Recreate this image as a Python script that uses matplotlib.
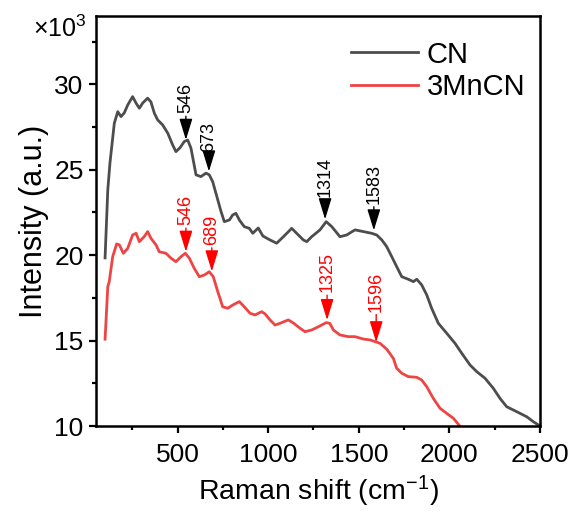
import matplotlib
matplotlib.use("Agg")
import matplotlib.pyplot as plt
from matplotlib.ticker import MultipleLocator

plt.rcParams['font.family'] = ['Liberation Sans', 'DejaVu Sans']
plt.rcParams['mathtext.fontset'] = 'custom'
plt.rcParams['mathtext.rm'] = 'Liberation Sans'
plt.rcParams['mathtext.it'] = 'Liberation Sans:italic'

# Raman shift (cm-1) and intensity (x10^3 a.u.)
cn_x = [100, 115, 127, 151, 170, 188, 206, 225, 252, 271, 289, 308, 335, 353, 372, 390,
        418, 446, 473, 491, 513, 537, 556, 574, 602, 629, 657, 675, 694, 722, 740, 758,
        786, 804, 822, 841, 868, 896, 915, 945, 971, 1010, 1047, 1084, 1130, 1157, 1194,
        1213, 1240, 1286, 1320, 1351, 1396, 1433, 1479, 1525, 1571, 1599, 1627, 1654,
        1682, 1709, 1737, 1773, 1801, 1820, 1847, 1875, 1902, 1939, 1985, 2031, 2068,
        2114, 2151, 2197, 2242, 2279, 2316, 2371, 2427, 2463, 2500]
cn_y = [19.84, 23.82, 25.40, 27.72, 28.40, 28.11, 28.33, 28.79, 29.28, 28.90, 28.60,
        28.91, 29.19, 28.97, 28.31, 27.92, 27.62, 27.14, 26.45, 26.06, 26.28, 26.65,
        26.74, 26.26, 24.70, 24.60, 24.80, 24.70, 24.30, 23.23, 22.55, 21.96, 22.06,
        22.35, 22.45, 22.06, 21.67, 21.57, 21.28, 21.59, 21.12, 20.89, 20.70, 21.08,
        21.57, 21.28, 20.89, 20.79, 21.08, 21.48, 21.96, 21.67, 21.08, 21.18, 21.48,
        21.38, 21.28, 21.18, 20.89, 20.50, 19.91, 19.33, 18.74, 18.59, 18.45, 18.59,
        18.26, 17.67, 16.89, 16.01, 15.43, 14.84, 14.26, 13.57, 13.18, 12.79, 12.21,
        11.62, 11.13, 10.84, 10.54, 10.25, 10.00]

mn_x = [100, 115, 123, 142, 164, 179, 201, 225, 252, 271, 289, 316, 335, 353, 381, 399,
        436, 464, 491, 519, 543, 565, 592, 620, 648, 675, 697, 722, 749, 777, 804, 841,
        868, 900, 927, 964, 983, 1010, 1038, 1065, 1111, 1139, 1176, 1203, 1240, 1277,
        1320, 1340, 1360, 1396, 1442, 1479, 1525, 1562, 1590, 1617, 1654, 1691, 1709,
        1737, 1773, 1820, 1847, 1875, 1911, 1948, 1985, 2022, 2065]
mn_y = [15.08, 18.16, 18.45, 19.91, 20.66, 20.60, 20.11, 20.40, 21.18, 21.28, 20.79,
        21.08, 21.38, 20.99, 20.60, 20.20, 20.11, 19.82, 19.62, 19.91, 20.11, 19.82,
        19.23, 18.74, 18.84, 19.03, 18.74, 17.86, 16.98, 16.89, 17.08, 17.28, 16.98,
        16.60, 16.50, 16.69, 16.56, 16.21, 15.91, 16.01, 16.21, 16.03, 15.72, 15.52,
        15.62, 15.81, 16.05, 16.01, 15.62, 15.33, 15.23, 15.23, 15.09, 15.04, 14.94,
        14.84, 14.50, 13.95, 13.38, 13.09, 12.89, 12.85, 12.69, 12.30, 11.62, 11.04,
        10.74, 10.45, 9.90]

# peak annotations: position (label) and intensity at arrow tip
cn_peaks = [546, 673, 1314, 1583]
cn_tips = [26.75, 24.9, 22.1, 21.45]
mn_peaks = [546, 689, 1325, 1596]
mn_tips = [20.2, 19.05, 16.2, 14.9]

cn_gap = [19, 14, 16, 19]
mn_gap = [19, 19, 20, 22]

fig = plt.figure(figsize=(5.78, 5.14), dpi=100)
ax = fig.add_axes([0.1661, 0.1712, 0.7682, 0.7977])

ax.plot(cn_x, cn_y, color='#4d4d4d', lw=2.0, label='CN')
ax.plot(mn_x, mn_y, color='#ee4444', lw=2.0, label='3MnCN')

def mark(peaks, tips, gaps, col):
    for p, t, g in zip(peaks, tips, gaps):
        ax.annotate(str(p), xy=(p, t), xytext=(0, g), textcoords='offset points',
                    rotation=90, ha='center', va='bottom', fontsize=13, color=col,
                    arrowprops=dict(arrowstyle='-|>,head_length=1.3,head_width=0.4',
                                    color=col, lw=1.0, shrinkA=0, shrinkB=0,
                                    mutation_scale=10))

mark(cn_peaks, cn_tips, cn_gap, 'black')
mark(mn_peaks, mn_tips, mn_gap, 'red')

ax.set_xlim(50, 2500)
ax.set_ylim(10, 34)
ax.xaxis.set_major_locator(MultipleLocator(500))
ax.xaxis.set_minor_locator(MultipleLocator(250))
ax.yaxis.set_major_locator(MultipleLocator(5))
ax.yaxis.set_minor_locator(MultipleLocator(2.5))
ax.tick_params(which='both', direction='out', width=1.6, labelsize=19, top=False, right=False)
ax.tick_params(which='major', length=5)
ax.tick_params(which='minor', length=3)
ax.tick_params(axis='x', pad=7)
ax.tick_params(axis='y', pad=4)
for s in ax.spines.values():
    s.set_linewidth(1.8)

ax.set_xlabel('Raman shift (cm$^{\\mathrm{-1}}$)', fontsize=20.5, labelpad=5)
ax.set_ylabel('Intensity (a.u.)', fontsize=22, labelpad=4)
ax.text(-0.142, 0.948, '×10$^{3}$', transform=ax.transAxes, fontsize=18,
        ha='left', va='baseline')

ax.legend(loc='upper right', frameon=False, fontsize=21, handlelength=2.3,
          handletextpad=0.3, labelspacing=0.15, borderaxespad=0.3,
          bbox_to_anchor=(1.013, 0.99))

fig.savefig('out.png', dpi=100)
